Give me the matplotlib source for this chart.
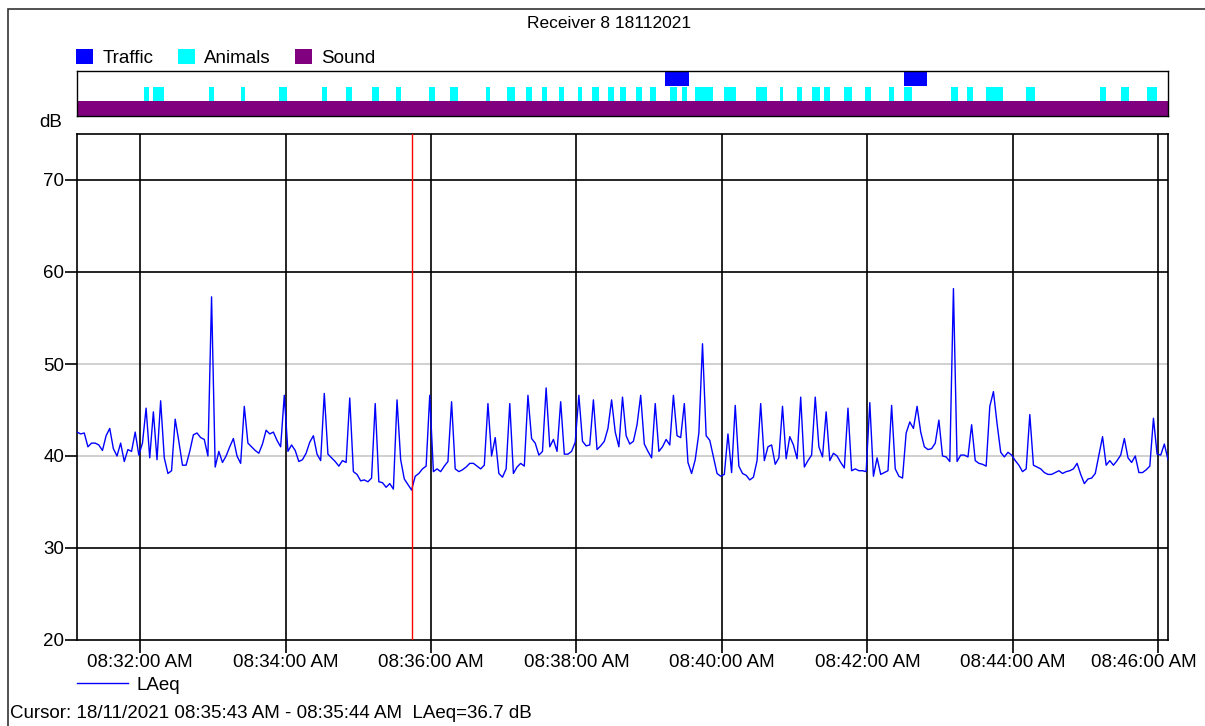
import datetime
import matplotlib
matplotlib.use('Agg')
import matplotlib.pyplot as plt
import matplotlib.dates as mdates
from matplotlib.patches import Patch, Rectangle
from matplotlib.lines import Line2D
from matplotlib.transforms import ScaledTranslation

plt.rcParams['font.family'] = ['Liberation Sans', 'DejaVu Sans']
plt.rcParams['font.size'] = 13.5

# ---- data: LAeq every 3 s from 08:31:08
start = datetime.datetime(2021, 11, 18, 8, 31, 8)
step_s = 3
laeq = [
    42.6, 42.4, 42.5, 41.0, 41.4, 41.4, 41.2, 40.6, 42.2, 43.0,
    40.8, 40.0, 41.4, 39.4, 40.7, 40.5, 42.6, 40.1, 41.4, 45.2,
    39.8, 44.8, 39.6, 46.0, 39.8, 38.1, 38.4, 44.0, 41.6, 39.0,
    39.0, 40.5, 42.3, 42.5, 42.0, 41.8, 40.0, 57.3, 38.8, 40.5,
    39.3, 40.0, 41.0, 41.9, 40.0, 39.2, 45.4, 41.4, 41.0, 40.6,
    40.3, 41.3, 42.8, 42.4, 42.6, 41.7, 41.0, 46.6, 40.5, 41.2,
    40.6, 39.4, 39.6, 40.3, 41.5, 42.2, 40.2, 39.5, 46.8, 40.2,
    39.8, 39.4, 38.9, 39.5, 39.3, 46.3, 38.3, 38.0, 37.3, 37.4,
    37.2, 37.6, 45.7, 37.2, 37.1, 36.6, 37.0, 36.4, 46.1, 39.6,
    37.5, 36.9, 36.3, 37.8, 38.1, 38.6, 38.9, 46.6, 38.3, 38.6,
    38.3, 38.9, 39.4, 45.9, 38.6, 38.3, 38.5, 38.8, 39.2, 39.2,
    38.9, 38.6, 39.0, 45.7, 40.0, 42.0, 38.1, 37.7, 38.6, 45.7,
    38.1, 38.8, 39.2, 38.9, 46.6, 41.9, 41.4, 40.1, 40.5, 47.4,
    41.0, 41.8, 40.5, 45.9, 40.2, 40.2, 40.5, 41.5, 46.6, 41.6,
    41.1, 41.2, 46.1, 40.7, 41.1, 41.6, 43.0, 46.1, 42.6, 41.0,
    46.4, 42.2, 41.3, 41.6, 43.4, 46.6, 41.3, 40.5, 39.8, 45.7,
    40.5, 41.0, 41.8, 41.2, 46.6, 42.2, 42.0, 45.7, 39.3, 38.1,
    39.6, 42.5, 52.2, 42.2, 41.7, 39.9, 38.1, 37.8, 38.0, 42.4,
    38.2, 45.5, 38.9, 38.1, 37.9, 37.4, 37.7, 39.5, 45.7, 39.5,
    41.0, 41.2, 39.1, 39.8, 45.4, 39.7, 42.1, 41.2, 39.7, 46.4,
    38.8, 39.5, 40.1, 46.4, 41.0, 39.9, 44.8, 39.5, 40.3, 40.0,
    39.3, 38.7, 45.2, 38.4, 38.6, 38.4, 38.4, 38.3, 45.8, 37.8,
    39.8, 38.0, 38.2, 38.4, 45.5, 38.6, 37.8, 37.6, 42.5, 43.7,
    43.0, 45.4, 42.6, 41.0, 40.7, 40.8, 41.4, 43.9, 40.0, 39.9,
    39.4, 58.2, 39.4, 40.1, 40.1, 39.9, 43.4, 39.5, 39.2, 39.1,
    38.9, 45.4, 47.0, 43.5, 40.4, 39.9, 40.4, 40.1, 39.5, 39.0,
    38.3, 38.6, 44.5, 39.0, 38.8, 38.6, 38.2, 38.0, 38.0, 38.2,
    38.4, 38.1, 38.3, 38.4, 38.6, 39.2, 38.0, 37.0, 37.5, 37.6,
    38.1, 40.1, 42.1, 39.0, 39.5, 39.0, 39.5, 40.1, 41.9, 39.8,
    39.3, 40.0, 38.2, 38.2, 38.5, 38.9, 44.1, 40.2, 40.1, 41.3,
    39.6,
]
duration_s = 900

# event annotations (start s, end s) from 08:31:08
traffic = [(485, 505), (682, 701)]
animals = [
    (55, 59), (63, 72), (109, 113), (135, 139), (167, 173), (202, 206),
    (222, 227), (243, 249), (263, 267), (290, 295), (308, 314), (337, 341),
    (355, 361), (370, 375), (384, 388), (398, 402), (413, 417), (425, 431),
    (438, 443), (448, 453), (461, 466), (473, 478), (489, 495), (499, 503),
    (510, 525), (534, 544), (560, 569), (580, 582), (594, 598), (606, 613),
    (616, 621), (633, 639), (650, 655), (670, 674), (682, 689), (721, 727),
    (734, 739), (750, 764), (783, 790), (844, 849), (861, 868), (883, 891),
]
sound = [(0, 900)]
cursor_s = 276

t = [start + datetime.timedelta(seconds=step_s * i) for i in range(len(laeq))]
t_end = start + datetime.timedelta(seconds=duration_s)

def to_bars(events):
    return [(mdates.date2num(start + datetime.timedelta(seconds=a)), (b - a) / 86400.0)
            for a, b in events]

fig = plt.figure(figsize=(12.05, 7.26), dpi=100)
W, H = 1205.0, 726.0

# outer frame
fig.patches.append(Rectangle((8 / W, -0.1), 1.2, 1.1 - 9 / H, transform=fig.transFigure,
                             fill=False, edgecolor='#333333', lw=1.2))

fig.text(609 / W, 1 - 23 / H, 'Receiver 8 18112021', ha='center', va='center', fontsize=12.5)

# ---- event band
axb = fig.add_axes([77 / W, 1 - 116 / H, 1091 / W, 45 / H])
axb.broken_barh(to_bars(sound), (0, 1), facecolor='#800080')
axb.broken_barh(to_bars(animals), (1, 0.95), facecolor='#00FFFF')
axb.broken_barh(to_bars(traffic), (2, 1), facecolor='#0000FF')
axb.set_xlim(start, t_end)
axb.set_ylim(0, 3)
axb.set_xticks([])
axb.set_yticks([])
for sp in axb.spines.values():
    sp.set_linewidth(1.0)

cols = ['#0000FF', '#00FFFF', '#800080']
names = ['Traffic', 'Animals', 'Sound']
fig.legend(handles=[Patch(facecolor=c) for c in cols], labels=names,
           loc='center left', bbox_to_anchor=(76 / W, 1 - 58 / H), ncol=3, frameon=False,
           handlelength=0.9, handleheight=0.9, handletextpad=0.5, columnspacing=1.3,
           borderpad=0, borderaxespad=0)

# ---- main LAeq axes
ax = fig.add_axes([77 / W, 1 - 640 / H, 1091 / W, 506 / H])
ax.plot(t, laeq, color='#0000FF', lw=1.0, zorder=3)
ax.axvline(start + datetime.timedelta(seconds=cursor_s), color='red', lw=1.0, zorder=4)
ax.set_xlim(start, t_end)
ax.set_ylim(20, 75)
yt = [20, 30, 40, 50, 60, 70]
ax.set_yticks(yt)
for v in yt[1:]:
    c = '#c8c8c8' if v in (40, 50) else 'black'
    ax.axhline(v, color=c, lw=1.2, zorder=1)
ax.xaxis.set_major_locator(mdates.MinuteLocator(byminute=range(0, 60, 2)))
ax.xaxis.set_major_formatter(mdates.DateFormatter('%I:%M:%S %p'))
ax.grid(axis='x', color='black', lw=1.2, zorder=1)
ax.tick_params(length=9, width=1.2, labelsize=13.5)
ax.tick_params(axis='x', pad=1)
ax.tick_params(axis='y', pad=0)
for sp in ax.spines.values():
    sp.set_linewidth(1.2)
ax.text(-0.0137, 1.005, 'dB', transform=ax.transAxes, ha='right', va='bottom', fontsize=13.5)

# last time label is pushed left so it stays inside the picture
fig.canvas.draw()
last = ax.get_xticklabels()[-1]
last.set_transform(last.get_transform() + ScaledTranslation(-0.14, 0, fig.dpi_scale_trans))

fig.legend(handles=[Line2D([], [], color='#0000FF', lw=1.0)], labels=['LAeq'],
           loc='center left', bbox_to_anchor=(77 / W, 1 - 685 / H), frameon=False,
           handlelength=2.7, handletextpad=0.45, borderpad=0, borderaxespad=0)

fig.text(10 / W, 1 - 713 / H, 'Cursor: 18/11/2021 08:35:43 AM - 08:35:44 AM  LAeq=36.7 dB',
         ha='left', va='center', fontsize=13.5)

fig.savefig('out.png', dpi=100)
